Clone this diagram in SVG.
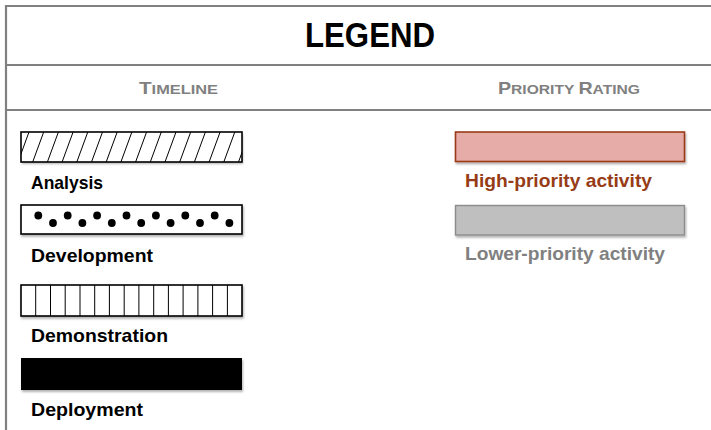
<svg xmlns="http://www.w3.org/2000/svg" width="711" height="430" viewBox="0 0 711 430">
<defs>
<style>
.frame{stroke:#808080;stroke-width:2.2;fill:none}
.lbl{font-family:"Liberation Sans",Arial,sans-serif;font-weight:bold;font-size:19px;fill:#000}
.hdr{font-family:"Liberation Sans",Arial,sans-serif;font-weight:bold;fill:#808080}
.bar{stroke:#000;stroke-width:1.6}
.thin{stroke:#000;stroke-width:1}
</style>
<filter id="sh" x="-5%" y="-20%" width="110%" height="160%">
<feDropShadow dx="1" dy="2" stdDeviation="1.2" flood-color="#000" flood-opacity="0.3"/>
</filter>
<clipPath id="clipA"><rect x="21" y="132" width="221" height="30"/></clipPath>
</defs>
<g id="frame">
<line class="frame" x1="6" y1="6" x2="715" y2="6"/>
<line class="frame" x1="6" y1="5" x2="6" y2="435"/>
<line class="frame" x1="6" y1="65" x2="715" y2="65"/>
<line class="frame" x1="6" y1="110" x2="715" y2="110"/>
</g>
<g id="title">
<text x="305" y="47" font-family="Liberation Sans,Arial,sans-serif" font-weight="bold" font-size="35" fill="#000" textLength="130" lengthAdjust="spacingAndGlyphs">LEGEND</text>
</g>
<g id="timeline-header">
<text class="hdr" x="139" y="94" textLength="79" lengthAdjust="spacingAndGlyphs"><tspan font-size="17">T</tspan><tspan font-size="13.5">IMELINE</tspan></text>
</g>
<g id="priority-header">
<text class="hdr" x="498" y="94" textLength="142" lengthAdjust="spacingAndGlyphs"><tspan font-size="17">P</tspan><tspan font-size="13.5">RIORITY </tspan><tspan font-size="17">R</tspan><tspan font-size="13.5">ATING</tspan></text>
</g>
<g id="analysis">
<rect x="21" y="132" width="221" height="30" fill="#fff" filter="url(#sh)"/>
<g clip-path="url(#clipA)" class="thin">
<line x1="18" y1="162" x2="29" y2="132"/>
<line x1="32.7" y1="162" x2="43.7" y2="132"/>
<line x1="47.4" y1="162" x2="58.4" y2="132"/>
<line x1="62.1" y1="162" x2="73.1" y2="132"/>
<line x1="76.8" y1="162" x2="87.8" y2="132"/>
<line x1="91.5" y1="162" x2="102.5" y2="132"/>
<line x1="106.2" y1="162" x2="117.2" y2="132"/>
<line x1="120.9" y1="162" x2="131.9" y2="132"/>
<line x1="135.6" y1="162" x2="146.6" y2="132"/>
<line x1="150.3" y1="162" x2="161.3" y2="132"/>
<line x1="165" y1="162" x2="176" y2="132"/>
<line x1="179.7" y1="162" x2="190.7" y2="132"/>
<line x1="194.4" y1="162" x2="205.4" y2="132"/>
<line x1="209.1" y1="162" x2="220.1" y2="132"/>
<line x1="223.8" y1="162" x2="234.8" y2="132"/>
<line x1="238.5" y1="162" x2="249.5" y2="132"/>
</g>
<rect class="bar" x="21" y="132" width="221" height="30" fill="none"/>
<text class="lbl" x="31" y="189" textLength="72" lengthAdjust="spacingAndGlyphs">Analysis</text>
</g>
<g id="development">
<rect class="bar" x="21" y="205" width="221" height="29" fill="#fff" filter="url(#sh)"/>
<g fill="#000">
<circle cx="38.3" cy="215.5" r="3.9"/><circle cx="53" cy="223" r="3.9"/>
<circle cx="67.7" cy="215.5" r="3.9"/><circle cx="82.4" cy="223" r="3.9"/>
<circle cx="97.1" cy="215.5" r="3.9"/><circle cx="111.8" cy="223" r="3.9"/>
<circle cx="126.5" cy="215.5" r="3.9"/><circle cx="141.2" cy="223" r="3.9"/>
<circle cx="155.9" cy="215.5" r="3.9"/><circle cx="170.6" cy="223" r="3.9"/>
<circle cx="185.3" cy="215.5" r="3.9"/><circle cx="200" cy="223" r="3.9"/>
<circle cx="214.7" cy="215.5" r="3.9"/><circle cx="229.4" cy="223" r="3.9"/>
</g>
<text class="lbl" x="31" y="262" textLength="122" lengthAdjust="spacingAndGlyphs">Development</text>
</g>
<g id="demonstration">
<rect class="bar" x="21" y="285" width="221" height="31" fill="#fff" filter="url(#sh)"/>
<g class="thin">
<line x1="35.7" y1="285" x2="35.7" y2="316"/><line x1="50.5" y1="285" x2="50.5" y2="316"/>
<line x1="65.2" y1="285" x2="65.2" y2="316"/><line x1="80" y1="285" x2="80" y2="316"/>
<line x1="94.7" y1="285" x2="94.7" y2="316"/><line x1="109.4" y1="285" x2="109.4" y2="316"/>
<line x1="124.2" y1="285" x2="124.2" y2="316"/><line x1="138.9" y1="285" x2="138.9" y2="316"/>
<line x1="153.7" y1="285" x2="153.7" y2="316"/><line x1="168.4" y1="285" x2="168.4" y2="316"/>
<line x1="183.1" y1="285" x2="183.1" y2="316"/><line x1="197.9" y1="285" x2="197.9" y2="316"/>
<line x1="212.6" y1="285" x2="212.6" y2="316"/><line x1="227.4" y1="285" x2="227.4" y2="316"/>
</g>
<text class="lbl" x="31" y="342" textLength="137" lengthAdjust="spacingAndGlyphs">Demonstration</text>
</g>
<g id="deployment">
<rect x="21" y="358" width="221" height="32" fill="#000" filter="url(#sh)"/>
<text class="lbl" x="31" y="416" textLength="112" lengthAdjust="spacingAndGlyphs">Deployment</text>
</g>
<g id="high-priority">
<rect x="455.5" y="132" width="229" height="29.5" fill="#e6aca7" stroke="#9a3b17" stroke-width="1.6" filter="url(#sh)"/>
<text class="lbl" x="465" y="187" style="fill:#963c16" textLength="187" lengthAdjust="spacingAndGlyphs">High-priority activity</text>
</g>
<g id="lower-priority">
<rect x="455.5" y="205.5" width="229" height="29.5" fill="#bfbfbf" stroke="#8c8c8c" stroke-width="1.4" filter="url(#sh)"/>
<text class="lbl" x="465" y="260" style="fill:#808080" textLength="200" lengthAdjust="spacingAndGlyphs">Lower-priority activity</text>
</g>
<g id="connectors"/>
</svg>
